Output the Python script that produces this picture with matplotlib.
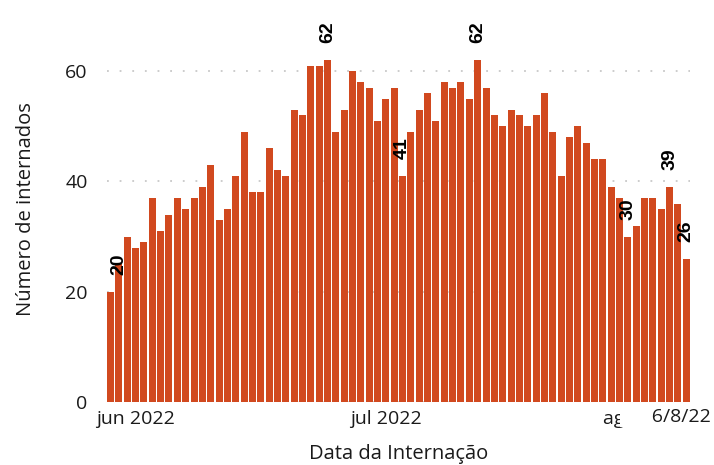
import numpy as np
import pandas as pd
import matplotlib
matplotlib.use('Agg')
from matplotlib import pyplot as plt

# internações diárias, 29/05/2022 a 06/08/2022
start_date = '2022-05-29'
internados = [20, 25, 30, 28, 29, 37, 31, 34, 37, 35, 37, 39, 43, 33, 35, 41, 49, 38, 38, 46,
              42, 41, 53, 52, 61, 61, 62, 49, 53, 60, 58, 57, 51, 55, 57, 41, 49, 53, 56, 51,
              58, 57, 58, 55, 62, 57, 52, 50, 53, 52, 50, 52, 56, 49, 41, 48, 50, 47, 44, 44,
              39, 37, 30, 32, 37, 37, 35, 39, 36, 26]
# barras com rótulo (índice do dia)
label_idx = [0, 26, 35, 44, 62, 67, 69]
tick_dates = ['2022-06-01', '2022-07-01', '2022-08-01']
tick_labels = ['jun 2022', 'jul 2022', 'ago 2022']
last_label = '6/8/22'
y_ticks = [0, 20, 40, 60]

plt.rcParams['font.family'] = ['Open Sans', 'DejaVu Sans']

dates = pd.date_range(start_date, periods=len(internados), freq='D')

fig = plt.figure(figsize=(7.14, 4.65), dpi=100)
ax = fig.add_axes([0.150, 0.1355, 0.816, 0.83])

ax.bar(dates, internados, width=0.84, color='#d1491f', zorder=2)

for i in label_idx:
    dx = 6 if i == 0 else 0
    ax.annotate(str(internados[i]), xy=(dates[i], internados[i]), xytext=(dx, 12),
                textcoords='offset points', rotation=90, ha='center', va='bottom',
                fontsize=14, fontweight='bold', family='Liberation Sans', color='black')

ax.set_xlim(dates[0] - pd.Timedelta(hours=10), dates[-1] + pd.Timedelta(hours=10))
ax.set_ylim(0, 70)
ax.set_yticks(y_ticks)
ax.set_xticks(pd.to_datetime(tick_dates))
ax.set_xticklabels(tick_labels)
ax.yaxis.grid(True, linestyle=(0, (1, 6)), linewidth=1.3, color='#c8c8c8', zorder=0)
ax.xaxis.grid(False)
for s in ax.spines.values():
    s.set_visible(False)
ax.tick_params(axis='y', length=0, pad=14, labelsize=14, labelcolor='#1a1a1a')
ax.tick_params(axis='x', length=0, pad=6, labelsize=14, labelcolor='#1a1a1a')

# último dia, com fundo branco por cima do rótulo de agosto
ax.annotate('      ' + last_label, xy=(1, 0), xycoords='axes fraction', xytext=(15.5, -4.3),
            textcoords='offset points', ha='right', va='top', fontsize=14, color='#1a1a1a',
            bbox=dict(facecolor='white', edgecolor='none', pad=1))

ax.set_xlabel('Data da Internação', fontsize=14.5, color='#1a1a1a', labelpad=11)
ax.set_ylabel('Número de internados', fontsize=14.5, color='#1a1a1a', labelpad=21)

fig.savefig('out.png', dpi=100)
